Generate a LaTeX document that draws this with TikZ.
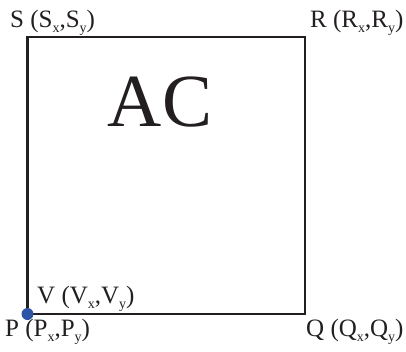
\documentclass[tikz,border=0pt]{standalone}
\usepackage{fontspec}
\setmainfont{Liberation Serif}
\usetikzlibrary{positioning}
\definecolor{inkdark}{RGB}{35,31,32}
\definecolor{ptblue}{RGB}{46,84,166}
\tikzset{
  sqline/.style={inkdark, line width=2.6pt},
  ptlab/.style={font=\fontsize{25}{29}\selectfont, text=inkdark, inner sep=0pt, anchor=base west},
  ptdot/.style={circle, fill=ptblue, inner sep=0pt, minimum size=12pt},
  biglab/.style={font=\fontsize{75}{80}\selectfont, text=inkdark, inner sep=0pt, anchor=base},
}
\newcommand{\sub}[1]{\raisebox{-5pt}{\fontsize{14}{15}\selectfont #1}}

\begin{document}
\begin{tikzpicture}[x=1pt, y=1pt]
    \useasboundingbox (0,0) rectangle (406,351);
    % corners of the square
    \coordinate (P) at (27.5,37);
    \coordinate (Q) at (305,37);
    \coordinate (R) at (305,314);
    \coordinate (S) at (27.5,314);
    \draw[sqline] (P) -- (Q) -- (R) -- (S) -- cycle;
    \node[ptdot] (Pdot) at (P) {};
    % labels
    \node[ptlab] (Slab) at (10,323) {S (S\sub{x},S\sub{y})};
    \node[ptlab] (Rlab) at (310,323) {R (R\sub{x},R\sub{y})};
    \node[ptlab] (Vlab) at (37,48) {V (V\sub{x},V\sub{y})};
    \node[ptlab] (Plab) at (5,15) {P (P\sub{x},P\sub{y})};
    \node[ptlab] (Qlab) at (306,15) {Q (Q\sub{x},Q\sub{y})};
    \node[biglab] (AC) at (160,224) {AC};
  \end{tikzpicture}
\end{document}
